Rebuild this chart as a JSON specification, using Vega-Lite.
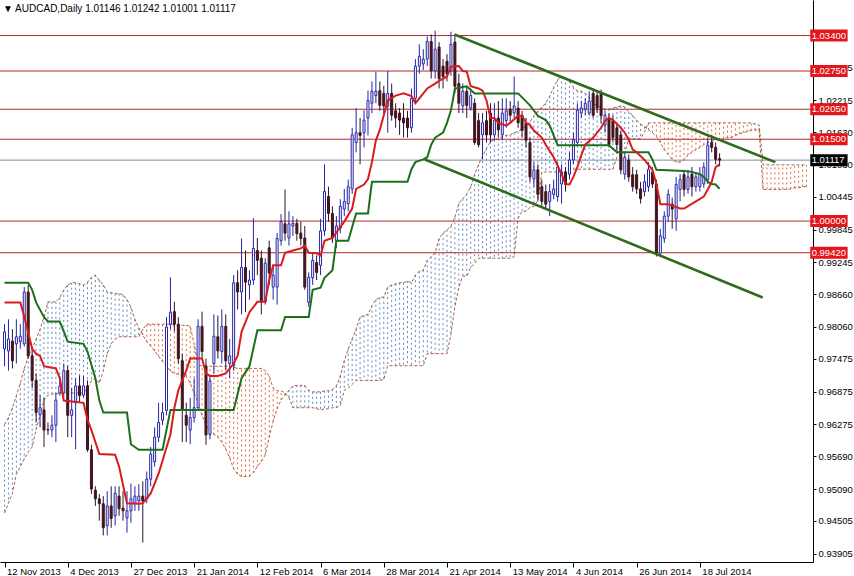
{
"$schema":"https://vega.github.io/schema/vega-lite/v6.json",
"width":813,"height":562,
"autosize":{"type":"none"},
"padding":{"left":0,"top":0,"right":41,"bottom":14},
"background":"white",
"config":{"view":{"stroke":null},"font":"Liberation Sans","axis":{"labelOverlap":false,"labelSeparation":0,"labelBound":false}},
"title":{"text":"▼ AUDCAD,Daily  1.01146 1.01242 1.01001 1.01117","anchor":"start","orient":"top","offset":-14,"fontSize":10,"fontWeight":"normal","font":"Liberation Sans","color":"black","dx":3},
"resolve":{"axis":{"x":"independent","y":"independent"}},
"datasets":{
"candles":[
{"i":0,"o":0.9766,"h":0.9811,"l":0.9734,"c":0.9797},{"i":1,"o":0.9762,"h":0.982,"l":0.9726,"c":0.9784},{"i":2,"o":0.978,"h":0.9802,"l":0.973,"c":0.9744},{"i":3,"o":0.9775,"h":0.982,"l":0.9739,"c":0.9788},{"i":4,"o":0.9779,"h":0.9811,"l":0.9766,"c":0.9789},{"i":5,"o":0.9775,"h":0.9879,"l":0.977,"c":0.987},{"i":6,"o":0.987,"h":0.9883,"l":0.9748,"c":0.9753},{"i":7,"o":0.9753,"h":0.9766,"l":0.9694,"c":0.9708},{"i":8,"o":0.9708,"h":0.9721,"l":0.9631,"c":0.9649},{"i":9,"o":0.9645,"h":0.9681,"l":0.9622,"c":0.9658},
{"i":10,"o":0.9654,"h":0.9676,"l":0.9586,"c":0.9617},{"i":11,"o":0.9618,"h":0.9631,"l":0.9608,"c":0.9617},{"i":12,"o":0.9617,"h":0.9644,"l":0.9604,"c":0.9626},{"i":13,"o":0.9626,"h":0.9685,"l":0.9595,"c":0.9672},{"i":14,"o":0.9685,"h":0.9716,"l":0.968,"c":0.9698},{"i":15,"o":0.9685,"h":0.9739,"l":0.9676,"c":0.9726},{"i":16,"o":0.9726,"h":0.9735,"l":0.9604,"c":0.9644},{"i":17,"o":0.9644,"h":0.9694,"l":0.9604,"c":0.9654},{"i":18,"o":0.9667,"h":0.9712,"l":0.9582,"c":0.9698},{"i":19,"o":0.9698,"h":0.9717,"l":0.9667,"c":0.968},
{"i":20,"o":0.9681,"h":0.9716,"l":0.9676,"c":0.9698},{"i":21,"o":0.9698,"h":0.9708,"l":0.9577,"c":0.9581},{"i":22,"o":0.9581,"h":0.959,"l":0.95,"c":0.9509},{"i":23,"o":0.9507,"h":0.9514,"l":0.9478,"c":0.9491},{"i":24,"o":0.9491,"h":0.95,"l":0.9451,"c":0.9482},{"i":25,"o":0.9482,"h":0.9496,"l":0.9424,"c":0.9438},{"i":26,"o":0.9442,"h":0.9505,"l":0.9424,"c":0.9478},{"i":27,"o":0.9478,"h":0.9514,"l":0.9438,"c":0.9455},{"i":28,"o":0.946,"h":0.9514,"l":0.9442,"c":0.9501},{"i":29,"o":0.9496,"h":0.9514,"l":0.946,"c":0.9473},
{"i":30,"o":0.9474,"h":0.9505,"l":0.9451,"c":0.9469},{"i":31,"o":0.9456,"h":0.9505,"l":0.9429,"c":0.9469},{"i":32,"o":0.9469,"h":0.9519,"l":0.9447,"c":0.9491},{"i":33,"o":0.9482,"h":0.9514,"l":0.9469,"c":0.9496},{"i":34,"o":0.9487,"h":0.9518,"l":0.9469,"c":0.9496},{"i":35,"o":0.9496,"h":0.9523,"l":0.9411,"c":0.9487},{"i":36,"o":0.9491,"h":0.9541,"l":0.9483,"c":0.9527},{"i":37,"o":0.9527,"h":0.9586,"l":0.9514,"c":0.9573},{"i":38,"o":0.9559,"h":0.9622,"l":0.955,"c":0.9604},{"i":39,"o":0.9604,"h":0.9667,"l":0.9595,"c":0.9631},
{"i":40,"o":0.9635,"h":0.9667,"l":0.9626,"c":0.9649},{"i":41,"o":0.9653,"h":0.9824,"l":0.9644,"c":0.9806},{"i":42,"o":0.9811,"h":0.9897,"l":0.9802,"c":0.9833},{"i":43,"o":0.9834,"h":0.9852,"l":0.9798,"c":0.9811},{"i":44,"o":0.9811,"h":0.9824,"l":0.9739,"c":0.9748},{"i":45,"o":0.9744,"h":0.9757,"l":0.9595,"c":0.9653},{"i":46,"o":0.9644,"h":0.9667,"l":0.9595,"c":0.9626},{"i":47,"o":0.9617,"h":0.9676,"l":0.9591,"c":0.964},{"i":48,"o":0.964,"h":0.9712,"l":0.9631,"c":0.9658},{"i":49,"o":0.9658,"h":0.982,"l":0.9654,"c":0.9807},
{"i":50,"o":0.9807,"h":0.9834,"l":0.9748,"c":0.9761},{"i":51,"o":0.9734,"h":0.9748,"l":0.959,"c":0.9608},{"i":52,"o":0.9609,"h":0.9716,"l":0.96,"c":0.9707},{"i":53,"o":0.9739,"h":0.9829,"l":0.9721,"c":0.9789},{"i":54,"o":0.9788,"h":0.9827,"l":0.9748,"c":0.9762},{"i":55,"o":0.9761,"h":0.9838,"l":0.9739,"c":0.9807},{"i":56,"o":0.9807,"h":0.9829,"l":0.9726,"c":0.9744},{"i":57,"o":0.9739,"h":0.9784,"l":0.9712,"c":0.9753},{"i":58,"o":0.9735,"h":0.9901,"l":0.9726,"c":0.9887},{"i":59,"o":0.9887,"h":0.991,"l":0.9838,"c":0.987},
{"i":60,"o":0.987,"h":0.9968,"l":0.9829,"c":0.9915},{"i":61,"o":0.9915,"h":0.9946,"l":0.9833,"c":0.9888},{"i":62,"o":0.9883,"h":0.991,"l":0.9856,"c":0.9892},{"i":63,"o":0.9892,"h":1.0005,"l":0.9883,"c":0.995},{"i":64,"o":0.9946,"h":0.9969,"l":0.9901,"c":0.9928},{"i":65,"o":0.9932,"h":0.9946,"l":0.9829,"c":0.9852},{"i":66,"o":0.9852,"h":0.9932,"l":0.9847,"c":0.9923},{"i":67,"o":0.9951,"h":0.9964,"l":0.9883,"c":0.9905},{"i":68,"o":0.9879,"h":0.9919,"l":0.9856,"c":0.9901},{"i":69,"o":0.9879,"h":0.9978,"l":0.9847,"c":0.9968},
{"i":70,"o":0.9964,"h":1.0013,"l":0.9955,"c":0.9999},{"i":71,"o":0.9995,"h":1.0058,"l":0.9964,"c":0.9978},{"i":72,"o":0.9969,"h":1.0018,"l":0.9955,"c":0.9995},{"i":73,"o":0.9991,"h":1.0009,"l":0.9973,"c":0.9996},{"i":74,"o":0.9996,"h":1.0004,"l":0.9964,"c":0.9977},{"i":75,"o":0.9978,"h":0.9999,"l":0.9955,"c":0.9968},{"i":76,"o":0.9969,"h":0.9991,"l":0.9874,"c":0.9879},{"i":77,"o":0.9851,"h":0.9906,"l":0.9843,"c":0.9897},{"i":78,"o":0.9896,"h":0.9942,"l":0.9883,"c":0.9928},{"i":79,"o":0.9924,"h":0.9937,"l":0.9892,"c":0.9906},
{"i":80,"o":0.9919,"h":1.0004,"l":0.9901,"c":0.9982},{"i":81,"o":0.9982,"h":1.0104,"l":0.9973,"c":1.0054},{"i":82,"o":1.0045,"h":1.0063,"l":0.9999,"c":1.0014},{"i":83,"o":1.0014,"h":1.0027,"l":0.996,"c":0.9969},{"i":84,"o":0.9964,"h":1.0009,"l":0.9951,"c":0.9991},{"i":85,"o":0.9987,"h":1.004,"l":0.9978,"c":1.0027},{"i":86,"o":1.0022,"h":1.0059,"l":1.0009,"c":1.0036},{"i":87,"o":1.0032,"h":1.0076,"l":1.0018,"c":1.0063},{"i":88,"o":1.0059,"h":1.0171,"l":1.005,"c":1.0158},{"i":89,"o":1.0144,"h":1.0207,"l":1.0126,"c":1.0162},
{"i":90,"o":1.0162,"h":1.0189,"l":1.0104,"c":1.0157},{"i":91,"o":1.0162,"h":1.0203,"l":1.0135,"c":1.0185},{"i":92,"o":1.0189,"h":1.0239,"l":1.0157,"c":1.0221},{"i":93,"o":1.0216,"h":1.0256,"l":1.0198,"c":1.0238},{"i":94,"o":1.023,"h":1.0274,"l":1.0216,"c":1.0238},{"i":95,"o":1.0239,"h":1.0256,"l":1.0202,"c":1.0212},{"i":96,"o":1.0234,"h":1.0248,"l":1.0198,"c":1.0211},{"i":97,"o":1.0211,"h":1.0275,"l":1.0162,"c":1.0234},{"i":98,"o":1.0234,"h":1.0252,"l":1.0184,"c":1.0194},{"i":99,"o":1.0202,"h":1.0216,"l":1.0171,"c":1.0189},
{"i":100,"o":1.0198,"h":1.0207,"l":1.0158,"c":1.0185},{"i":101,"o":1.0189,"h":1.0216,"l":1.0153,"c":1.018},{"i":102,"o":1.0189,"h":1.0202,"l":1.0153,"c":1.0171},{"i":103,"o":1.0171,"h":1.0243,"l":1.0162,"c":1.0225},{"i":104,"o":1.0225,"h":1.0297,"l":1.0216,"c":1.0284},{"i":105,"o":1.0284,"h":1.0324,"l":1.027,"c":1.0302},{"i":106,"o":1.0288,"h":1.0315,"l":1.0277,"c":1.0297},{"i":107,"o":1.0297,"h":1.0338,"l":1.0284,"c":1.0329},{"i":108,"o":1.0329,"h":1.0342,"l":1.0261,"c":1.0275},{"i":109,"o":1.0275,"h":1.0349,"l":1.0261,"c":1.0315},
{"i":110,"o":1.0319,"h":1.0328,"l":1.0243,"c":1.0261},{"i":111,"o":1.0284,"h":1.0297,"l":1.0243,"c":1.0265},{"i":112,"o":1.0293,"h":1.0306,"l":1.0256,"c":1.027},{"i":113,"o":1.0275,"h":1.0347,"l":1.0266,"c":1.0324},{"i":114,"o":1.0328,"h":1.0342,"l":1.0234,"c":1.0247},{"i":115,"o":1.0252,"h":1.027,"l":1.0198,"c":1.0216},{"i":116,"o":1.0211,"h":1.0252,"l":1.0198,"c":1.0238},{"i":117,"o":1.0238,"h":1.0248,"l":1.0189,"c":1.0212},{"i":118,"o":1.0207,"h":1.0243,"l":1.0202,"c":1.023},{"i":119,"o":1.0216,"h":1.0225,"l":1.014,"c":1.0144},
{"i":120,"o":1.0184,"h":1.0198,"l":1.0135,"c":1.014},{"i":121,"o":1.0158,"h":1.0198,"l":1.0113,"c":1.018},{"i":122,"o":1.0184,"h":1.0202,"l":1.0144,"c":1.0158},{"i":123,"o":1.0198,"h":1.0216,"l":1.0144,"c":1.0158},{"i":124,"o":1.0158,"h":1.0216,"l":1.0148,"c":1.0185},{"i":125,"o":1.0189,"h":1.022,"l":1.0153,"c":1.0167},{"i":126,"o":1.0158,"h":1.0225,"l":1.0148,"c":1.0198},{"i":127,"o":1.0184,"h":1.0225,"l":1.0171,"c":1.0202},{"i":128,"o":1.0205,"h":1.022,"l":1.018,"c":1.0194},{"i":129,"o":1.0198,"h":1.0265,"l":1.0189,"c":1.0211},
{"i":130,"o":1.0207,"h":1.022,"l":1.0171,"c":1.018},{"i":131,"o":1.0194,"h":1.0202,"l":1.0153,"c":1.0166},{"i":132,"o":1.018,"h":1.0189,"l":1.0135,"c":1.0148},{"i":133,"o":1.0144,"h":1.0153,"l":1.0072,"c":1.0081},{"i":134,"o":1.0077,"h":1.0108,"l":1.0063,"c":1.0094},{"i":135,"o":1.0094,"h":1.0104,"l":1.0036,"c":1.0049},{"i":136,"o":1.0063,"h":1.0076,"l":1.0027,"c":1.0036},{"i":137,"o":1.0054,"h":1.0067,"l":1.0022,"c":1.0031},{"i":138,"o":1.0036,"h":1.0068,"l":1.0009,"c":1.0054},{"i":139,"o":1.0049,"h":1.0076,"l":1.004,"c":1.0059},
{"i":140,"o":1.0045,"h":1.0108,"l":1.0036,"c":1.0099},{"i":141,"o":1.0068,"h":1.0104,"l":1.0032,"c":1.009},{"i":142,"o":1.009,"h":1.0099,"l":1.0054,"c":1.0067},{"i":143,"o":1.0086,"h":1.0126,"l":1.0076,"c":1.0112},{"i":144,"o":1.0112,"h":1.0162,"l":1.0104,"c":1.0149},{"i":145,"o":1.0144,"h":1.0216,"l":1.014,"c":1.0203},{"i":146,"o":1.0198,"h":1.022,"l":1.0189,"c":1.0207},{"i":147,"o":1.0205,"h":1.0225,"l":1.0194,"c":1.0216},{"i":148,"o":1.0198,"h":1.0238,"l":1.0193,"c":1.022},{"i":149,"o":1.0234,"h":1.0243,"l":1.0189,"c":1.0194},
{"i":150,"o":1.023,"h":1.0238,"l":1.0198,"c":1.0207},{"i":151,"o":1.0234,"h":1.0241,"l":1.018,"c":1.0193},{"i":152,"o":1.0176,"h":1.0202,"l":1.0162,"c":1.0194},{"i":153,"o":1.0189,"h":1.0198,"l":1.0135,"c":1.014},{"i":154,"o":1.0184,"h":1.0194,"l":1.0144,"c":1.0153},{"i":155,"o":1.0171,"h":1.018,"l":1.0126,"c":1.014},{"i":156,"o":1.0158,"h":1.0166,"l":1.0086,"c":1.0094},{"i":157,"o":1.0086,"h":1.0126,"l":1.0076,"c":1.0117},{"i":158,"o":1.0112,"h":1.0122,"l":1.0072,"c":1.0081},{"i":159,"o":1.0085,"h":1.0099,"l":1.0054,"c":1.0063},
{"i":160,"o":1.0085,"h":1.0094,"l":1.005,"c":1.0059},{"i":161,"o":1.0059,"h":1.0072,"l":1.0032,"c":1.0041},{"i":162,"o":1.0054,"h":1.0086,"l":1.0045,"c":1.0072},{"i":163,"o":1.0063,"h":1.0108,"l":1.0054,"c":1.0095},{"i":164,"o":1.009,"h":1.0099,"l":1.0061,"c":1.0068},{"i":165,"o":1.0068,"h":1.0076,"l":0.9935,"c":0.9942},{"i":166,"o":0.9941,"h":0.9986,"l":0.9935,"c":0.9973},{"i":167,"o":0.9968,"h":1.0018,"l":0.996,"c":1.0009},{"i":168,"o":1.0009,"h":1.0058,"l":0.9999,"c":1.0049},{"i":169,"o":1.0031,"h":1.0043,"l":0.9986,"c":1.0022},
{"i":170,"o":1.0004,"h":1.0081,"l":0.9982,"c":1.0067},{"i":171,"o":1.0058,"h":1.0086,"l":1.0036,"c":1.0076},{"i":172,"o":1.0085,"h":1.0094,"l":1.0045,"c":1.0058},{"i":173,"o":1.0058,"h":1.0094,"l":1.005,"c":1.0081},{"i":174,"o":1.0086,"h":1.0099,"l":1.0045,"c":1.0063},{"i":175,"o":1.0063,"h":1.009,"l":1.0054,"c":1.0081},{"i":176,"o":1.0063,"h":1.0099,"l":1.0054,"c":1.0086},{"i":177,"o":1.0068,"h":1.0108,"l":1.0061,"c":1.0099},{"i":178,"o":1.0076,"h":1.0153,"l":1.0068,"c":1.0139},{"i":179,"o":1.0144,"h":1.0157,"l":1.0126,"c":1.0135},
{"i":180,"o":1.0135,"h":1.0144,"l":1.0104,"c":1.0113},{"i":181,"o":1.01146,"h":1.01242,"l":1.01001,"c":1.01117}
],
"tenkan":[
{"i":0,"v":0.9851},{"i":4,"v":0.9851},{"i":5,"v":0.9825},{"i":7,"v":0.9766},{"i":8,"v":0.9757},{"i":9,"v":0.9753},{"i":10,"v":0.9734},{"i":13,"v":0.973},{"i":14,"v":0.9712},{"i":15,"v":0.9671},{"i":20,"v":0.9667},{"i":21,"v":0.9636},{"i":22,"v":0.9617},{"i":24,"v":0.9573},{"i":28,"v":0.9572},{"i":29,"v":0.955},{"i":31,"v":0.9483},{"i":34,"v":0.9482},{"i":35,"v":0.9483},{"i":37,"v":0.9501},{"i":39,"v":0.9537},{"i":42,"v":0.9609},{"i":43,"v":0.9658},{"i":44,"v":0.969},{"i":46,"v":0.9726},{"i":47,"v":0.9748},{"i":50,"v":0.9748},{"i":51,"v":0.9721},{"i":52,"v":0.9716},{"i":54,"v":0.9716},{"i":56,"v":0.9721},{"i":58,"v":0.9739},{"i":59,"v":0.9753},{"i":60,"v":0.9797},{"i":62,"v":0.9833},{"i":64,"v":0.9852},{"i":66,"v":0.9852},{"i":67,"v":0.9892},{"i":68,"v":0.9919},{"i":70,"v":0.9919},{"i":71,"v":0.9942},{"i":73,"v":0.9946},{"i":75,"v":0.995},{"i":76,"v":0.9955},{"i":77,"v":0.9942},{"i":79,"v":0.9941},{"i":80,"v":0.9937},{"i":81,"v":0.9964},{"i":83,"v":0.9969},{"i":86,"v":0.9999},{"i":88,"v":1.0023},{"i":89,"v":1.0059},{"i":91,"v":1.0067},{"i":92,"v":1.0077},{"i":93,"v":1.0108},{"i":94,"v":1.0148},{"i":95,"v":1.0167},{"i":97,"v":1.0221},{"i":99,"v":1.023},{"i":101,"v":1.0234},{"i":103,"v":1.0229},{"i":104,"v":1.0216},{"i":105,"v":1.0225},{"i":107,"v":1.0243},{"i":109,"v":1.0252},{"i":110,"v":1.0257},{"i":112,"v":1.0265},{"i":113,"v":1.0283},{"i":115,"v":1.0284},{"i":116,"v":1.0275},{"i":117,"v":1.0274},{"i":118,"v":1.0247},{"i":120,"v":1.0243},{"i":121,"v":1.0239},{"i":122,"v":1.0221},{"i":123,"v":1.0189},{"i":124,"v":1.0189},{"i":125,"v":1.018},{"i":127,"v":1.0175},{"i":128,"v":1.018},{"i":130,"v":1.0193},{"i":131,"v":1.0193},{"i":132,"v":1.018},{"i":133,"v":1.0176},{"i":134,"v":1.0166},{"i":136,"v":1.0153},{"i":137,"v":1.014},{"i":139,"v":1.0117},{"i":141,"v":1.0086},{"i":142,"v":1.0068},{"i":143,"v":1.0067},{"i":144,"v":1.0081},{"i":145,"v":1.0099},{"i":146,"v":1.0121},{"i":147,"v":1.014},{"i":149,"v":1.0153},{"i":151,"v":1.0171},{"i":152,"v":1.0184},{"i":153,"v":1.0189},{"i":154,"v":1.0185},{"i":156,"v":1.0171},{"i":157,"v":1.0162},{"i":158,"v":1.0149},{"i":159,"v":1.0131},{"i":160,"v":1.0126},{"i":162,"v":1.0112},{"i":163,"v":1.0103},{"i":164,"v":1.0094},{"i":165,"v":1.0068},{"i":166,"v":1.0031},{"i":168,"v":1.0031},{"i":171,"v":1.0023},{"i":172,"v":1.0023},{"i":175,"v":1.0036},{"i":177,"v":1.0045},{"i":178,"v":1.0058},{"i":179,"v":1.0072},{"i":180,"v":1.0099},{"i":181,"v":1.0104}
],
"kijun":[
{"i":0,"v":0.9887},{"i":6,"v":0.9887},{"i":7,"v":0.9874},{"i":8,"v":0.9851},{"i":10,"v":0.9824},{"i":11,"v":0.9816},{"i":14,"v":0.9816},{"i":16,"v":0.9779},{"i":20,"v":0.9775},{"i":21,"v":0.9761},{"i":23,"v":0.9712},{"i":24,"v":0.9671},{"i":25,"v":0.9649},{"i":31,"v":0.9649},{"i":32,"v":0.9591},{"i":34,"v":0.9581},{"i":40,"v":0.9581},{"i":42,"v":0.9654},{"i":58,"v":0.9654},{"i":60,"v":0.9712},{"i":62,"v":0.9734},{"i":64,"v":0.98},{"i":70,"v":0.98},{"i":71,"v":0.9824},{"i":77,"v":0.9824},{"i":78,"v":0.9874},{"i":80,"v":0.9878},{"i":81,"v":0.9896},{"i":83,"v":0.991},{"i":84,"v":0.9964},{"i":87,"v":0.9964},{"i":89,"v":1.0014},{"i":92,"v":1.0014},{"i":93,"v":1.0072},{"i":102,"v":1.0072},{"i":103,"v":1.0095},{"i":104,"v":1.0108},{"i":106,"v":1.0113},{"i":107,"v":1.0117},{"i":108,"v":1.014},{"i":109,"v":1.0153},{"i":111,"v":1.0162},{"i":112,"v":1.018},{"i":113,"v":1.0203},{"i":114,"v":1.0243},{"i":117,"v":1.0247},{"i":119,"v":1.0234},{"i":130,"v":1.0234},{"i":133,"v":1.0212},{"i":135,"v":1.0193},{"i":137,"v":1.0185},{"i":138,"v":1.0175},{"i":140,"v":1.0139},{"i":153,"v":1.0139},{"i":155,"v":1.0126},{"i":163,"v":1.0126},{"i":164,"v":1.0113},{"i":165,"v":1.0094},{"i":172,"v":1.0092},{"i":174,"v":1.009},{"i":176,"v":1.0086},{"i":177,"v":1.0081},{"i":178,"v":1.0072},{"i":179,"v":1.0068},{"i":180,"v":1.0067},{"i":181,"v":1.0059}
],
"cloud":[
{"i":0,"a":0.9627,"b":0.9465},{"i":1,"a":0.964,"b":0.9483},{"i":2,"a":0.9658,"b":0.9501},{"i":3,"a":0.968,"b":0.9536},{"i":4,"a":0.9703,"b":0.955},{"i":5,"a":0.973,"b":0.9564},{"i":6,"a":0.9752,"b":0.9577},{"i":7,"a":0.9766,"b":0.9586},{"i":8,"a":0.9784,"b":0.9618},{"i":9,"a":0.9802,"b":0.9644},
{"i":10,"a":0.9824,"b":0.9672},{"i":11,"a":0.9852,"b":0.9681},{"i":12,"a":0.9852,"b":0.9683},{"i":13,"a":0.9852,"b":0.9683},{"i":14,"a":0.986,"b":0.9685},{"i":15,"a":0.9874,"b":0.9685},{"i":16,"a":0.9883,"b":0.9685},{"i":17,"a":0.9887,"b":0.9685},{"i":18,"a":0.9887,"b":0.9685},{"i":19,"a":0.9885,"b":0.9685},
{"i":20,"a":0.9883,"b":0.9685},{"i":21,"a":0.9888,"b":0.9694},{"i":22,"a":0.9897,"b":0.9707},{"i":23,"a":0.9901,"b":0.9712},{"i":24,"a":0.9892,"b":0.9703},{"i":25,"a":0.9883,"b":0.9726},{"i":26,"a":0.987,"b":0.9757},{"i":27,"a":0.9869,"b":0.9775},{"i":28,"a":0.9867,"b":0.9784},{"i":29,"a":0.9867,"b":0.9788},
{"i":30,"a":0.9865,"b":0.9788},{"i":31,"a":0.9856,"b":0.9788},{"i":32,"a":0.9842,"b":0.9788},{"i":33,"a":0.982,"b":0.9788},{"i":34,"a":0.9804,"b":0.9788},{"i":35,"a":0.9791,"b":0.9802},{"i":36,"a":0.9779,"b":0.9811},{"i":37,"a":0.9771,"b":0.9811},{"i":38,"a":0.9762,"b":0.9811},{"i":39,"a":0.9752,"b":0.9811},
{"i":40,"a":0.9743,"b":0.9811},{"i":41,"a":0.9734,"b":0.9811},{"i":42,"a":0.9725,"b":0.9811},{"i":43,"a":0.9721,"b":0.9809},{"i":44,"a":0.9719,"b":0.9809},{"i":45,"a":0.9717,"b":0.9809},{"i":46,"a":0.9716,"b":0.9809},{"i":47,"a":0.9703,"b":0.9807},{"i":48,"a":0.9685,"b":0.9775},{"i":49,"a":0.9667,"b":0.9735},
{"i":50,"a":0.9644,"b":0.9735},{"i":51,"a":0.9626,"b":0.9735},{"i":52,"a":0.9615,"b":0.9734},{"i":53,"a":0.9609,"b":0.9734},{"i":54,"a":0.9604,"b":0.9734},{"i":55,"a":0.9595,"b":0.9734},{"i":56,"a":0.9582,"b":0.9734},{"i":57,"a":0.9566,"b":0.9734},{"i":58,"a":0.9546,"b":0.9732},{"i":59,"a":0.9536,"b":0.973},
{"i":60,"a":0.9532,"b":0.973},{"i":61,"a":0.9532,"b":0.973},{"i":62,"a":0.9532,"b":0.973},{"i":63,"a":0.9539,"b":0.973},{"i":64,"a":0.955,"b":0.973},{"i":65,"a":0.9559,"b":0.973},{"i":66,"a":0.9572,"b":0.9726},{"i":67,"a":0.9604,"b":0.9716},{"i":68,"a":0.9633,"b":0.9694},{"i":69,"a":0.9656,"b":0.9689},
{"i":70,"a":0.9672,"b":0.9689},{"i":71,"a":0.9681,"b":0.9685},{"i":72,"a":0.969,"b":0.9676},{"i":73,"a":0.9698,"b":0.9658},{"i":74,"a":0.9699,"b":0.9658},{"i":75,"a":0.9699,"b":0.9658},{"i":76,"a":0.9699,"b":0.9658},{"i":77,"a":0.969,"b":0.9658},{"i":78,"a":0.9687,"b":0.9658},{"i":79,"a":0.9687,"b":0.9656},
{"i":80,"a":0.9687,"b":0.9654},{"i":81,"a":0.9689,"b":0.9656},{"i":82,"a":0.9689,"b":0.9656},{"i":83,"a":0.9692,"b":0.9658},{"i":84,"a":0.9698,"b":0.9658},{"i":85,"a":0.9716,"b":0.9662},{"i":86,"a":0.9744,"b":0.969},{"i":87,"a":0.9766,"b":0.9694},{"i":88,"a":0.9784,"b":0.9701},{"i":89,"a":0.9802,"b":0.9708},
{"i":90,"a":0.9824,"b":0.9708},{"i":91,"a":0.9827,"b":0.9708},{"i":92,"a":0.9829,"b":0.9708},{"i":93,"a":0.9845,"b":0.9708},{"i":94,"a":0.9856,"b":0.9708},{"i":95,"a":0.986,"b":0.9708},{"i":96,"a":0.9861,"b":0.971},{"i":97,"a":0.9879,"b":0.9735},{"i":98,"a":0.9883,"b":0.9735},{"i":99,"a":0.9885,"b":0.9735},
{"i":100,"a":0.9887,"b":0.9735},{"i":101,"a":0.9887,"b":0.9735},{"i":102,"a":0.989,"b":0.9735},{"i":103,"a":0.9887,"b":0.9735},{"i":104,"a":0.9901,"b":0.9735},{"i":105,"a":0.9908,"b":0.9735},{"i":106,"a":0.991,"b":0.9735},{"i":107,"a":0.9928,"b":0.9757},{"i":108,"a":0.9935,"b":0.9757},{"i":109,"a":0.9942,"b":0.9757},
{"i":110,"a":0.9968,"b":0.9757},{"i":111,"a":0.9978,"b":0.9757},{"i":112,"a":0.9984,"b":0.9757},{"i":113,"a":0.9991,"b":0.9793},{"i":114,"a":1.0007,"b":0.9843},{"i":115,"a":1.0032,"b":0.9879},{"i":116,"a":1.0041,"b":0.9899},{"i":117,"a":1.005,"b":0.9899},{"i":118,"a":1.0063,"b":0.9915},{"i":119,"a":1.0086,"b":0.9923},
{"i":120,"a":1.0104,"b":0.9932},{"i":121,"a":1.0119,"b":0.9932},{"i":122,"a":1.0133,"b":0.9932},{"i":123,"a":1.0146,"b":0.9932},{"i":124,"a":1.0149,"b":0.9932},{"i":125,"a":1.0151,"b":0.9932},{"i":126,"a":1.0155,"b":0.9932},{"i":127,"a":1.0157,"b":0.9932},{"i":128,"a":1.0158,"b":0.9932},{"i":129,"a":1.0162,"b":0.9935},
{"i":130,"a":1.0164,"b":1.0005},{"i":131,"a":1.0169,"b":1.0018},{"i":132,"a":1.0175,"b":1.0018},{"i":133,"a":1.0182,"b":1.0025},{"i":134,"a":1.0193,"b":1.0027},{"i":135,"a":1.0202,"b":1.0038},{"i":136,"a":1.0209,"b":1.009},{"i":137,"a":1.0216,"b":1.009},{"i":138,"a":1.0229,"b":1.009},{"i":139,"a":1.0245,"b":1.009},
{"i":140,"a":1.0259,"b":1.009},{"i":141,"a":1.0265,"b":1.009},{"i":142,"a":1.0263,"b":1.009},{"i":143,"a":1.0257,"b":1.0095},{"i":144,"a":1.0245,"b":1.0095},{"i":145,"a":1.0239,"b":1.0095},{"i":146,"a":1.0238,"b":1.0095},{"i":147,"a":1.0234,"b":1.0095},{"i":148,"a":1.0227,"b":1.0095},{"i":149,"a":1.0216,"b":1.0095},
{"i":150,"a":1.0212,"b":1.0095},{"i":151,"a":1.0209,"b":1.0095},{"i":152,"a":1.0205,"b":1.0095},{"i":153,"a":1.0205,"b":1.0095},{"i":154,"a":1.0207,"b":1.0095},{"i":155,"a":1.0209,"b":1.0117},{"i":156,"a":1.0211,"b":1.0121},{"i":157,"a":1.0209,"b":1.0126},{"i":158,"a":1.02,"b":1.0151},{"i":159,"a":1.0194,"b":1.0151},
{"i":160,"a":1.0185,"b":1.0151},{"i":161,"a":1.0178,"b":1.0151},{"i":162,"a":1.0173,"b":1.0164},{"i":163,"a":1.0167,"b":1.018},{"i":164,"a":1.0162,"b":1.018},{"i":165,"a":1.0155,"b":1.018},{"i":166,"a":1.0144,"b":1.018},{"i":167,"a":1.0131,"b":1.018},{"i":168,"a":1.0122,"b":1.018},{"i":169,"a":1.0113,"b":1.018},
{"i":170,"a":1.0108,"b":1.018},{"i":171,"a":1.0108,"b":1.018},{"i":172,"a":1.0112,"b":1.018},{"i":173,"a":1.0121,"b":1.018},{"i":174,"a":1.0126,"b":1.018},{"i":175,"a":1.0131,"b":1.018},{"i":176,"a":1.0135,"b":1.018},{"i":177,"a":1.014,"b":1.018},{"i":178,"a":1.0144,"b":1.018},{"i":179,"a":1.0146,"b":1.018},
{"i":180,"a":1.0149,"b":1.018},{"i":181,"a":1.0149,"b":1.018},{"i":182,"a":1.0151,"b":1.018},{"i":183,"a":1.0153,"b":1.018},{"i":184,"a":1.0153,"b":1.018},{"i":185,"a":1.0157,"b":1.018},{"i":186,"a":1.016,"b":1.018},{"i":187,"a":1.0162,"b":1.018},{"i":188,"a":1.0164,"b":1.018},{"i":189,"a":1.0166,"b":1.018},
{"i":190,"a":1.0167,"b":1.0178},{"i":191,"a":1.0167,"b":1.0176},{"i":192,"a":1.0058,"b":1.0103},{"i":193,"a":1.0058,"b":1.0103},{"i":194,"a":1.0058,"b":1.0103},{"i":195,"a":1.0058,"b":1.0103},{"i":196,"a":1.0058,"b":1.0103},{"i":197,"a":1.0058,"b":1.0103},{"i":198,"a":1.0058,"b":1.0103},{"i":199,"a":1.0059,"b":1.0103},
{"i":200,"a":1.0061,"b":1.0103},{"i":201,"a":1.0061,"b":1.0103},{"i":202,"a":1.0063,"b":1.0103},{"i":203,"a":1.0063,"b":1.0103}
],
"trend":[
{"line":"upper","i":113.9,"v":1.0342},{"line":"upper","i":195.1,"v":1.0108},
{"line":"lower","i":106.4,"v":1.0113},{"line":"lower","i":191.9,"v":0.986}
],
"levels":[
{"v":1.034,"label":"1.03400","kind":"level"},{"v":1.0275,"label":"1.02750","kind":"level"},{"v":1.0205,"label":"1.02050","kind":"level"},{"v":1.015,"label":"1.01500","kind":"level"},{"v":1.0,"label":"1.00000","kind":"level"},{"v":0.9942,"label":"0.99420","kind":"level"},{"v":1.01117,"label":"1.01117","kind":"current"}
]
},
"layer":[
{"data":{"name":"cloud"},
 "mark":{"type":"rule","strokeWidth":1,"strokeDash":[2,3],"clip":true},
 "encoding":{
  "x":{"field":"i","type":"quantitative","title":null,"scale":{"domain":[0.125,203.375],"nice":false,"zero":false},
   "axis":{"orient":"bottom","values":[0,16,32,48,64,80,96,112,128,144,160,176],"labelExpr":"datum.value==0?'12 Nov 2013':datum.value==16?'4 Dec 2013':datum.value==32?'27 Dec 2013':datum.value==48?'21 Jan 2014':datum.value==64?'12 Feb 2014':datum.value==80?'6 Mar 2014':datum.value==96?'28 Mar 2014':datum.value==112?'21 Apr 2014':datum.value==128?'13 May 2014':datum.value==144?'4 Jun 2014':datum.value==160?'26 Jun 2014':'18 Jul 2014'","title":null,"grid":false,"domainColor":"black","tickColor":"black","tickSize":5,"labelAlign":"left","labelBaseline":"top","labelPadding":-1,"labelOffset":2,"labelFont":"Liberation Sans","labelFontSize":9.5,"labelColor":"black","labelFlush":false,"labelOverlap":false}},
  "y":{"field":"a","type":"quantitative","title":null,"scale":{"domain":[0.93844,1.0396],"nice":false,"zero":false},
   "axis":{"orient":"right","values":[1.034,1.02815,1.02215,1.0163,1.0103,1.00445,0.99845,0.99245,0.9866,0.9806,0.97475,0.96875,0.96275,0.9569,0.9509,0.94505,0.93905],"format":".5f","labelExpr":"datum.value > 1.033 ? '' : datum.label","title":null,"grid":false,"domainColor":"black","tickColor":"black","tickSize":3,"labelColor":"black","labelFont":"Liberation Sans","labelFontSize":9.5,"labelPadding":2,"labelFlush":false,"labelOverlap":false,"labelSeparation":0}},
  "y2":{"field":"b"},
  "color":{"condition":{"test":"datum.a >= datum.b","value":"#5f86bd"},"value":"#e26a38"}
 }},
{"data":{"name":"cloud"},
 "mark":{"type":"line","strokeWidth":1,"color":"#a8604a","strokeDash":[3,2],"clip":true},
 "encoding":{"x":{"field":"i","type":"quantitative","axis":null},"y":{"field":"a","type":"quantitative","axis":null}}},
{"data":{"name":"cloud"},
 "mark":{"type":"line","strokeWidth":1,"color":"#a8604a","strokeDash":[3,2],"clip":true},
 "encoding":{"x":{"field":"i","type":"quantitative","axis":null},"y":{"field":"b","type":"quantitative","axis":null}}},
{"data":{"name":"levels"},
 "mark":{"type":"rule","strokeWidth":1,"clip":true},
 "encoding":{"y":{"field":"v","type":"quantitative","axis":null},
  "color":{"condition":{"test":"datum.kind=='current'","value":"#7d8ea3"},"value":"#b42a2a"}}},
{"data":{"name":"candles"},
 "mark":{"type":"rule","strokeWidth":1,"clip":true},
 "encoding":{"x":{"field":"i","type":"quantitative","axis":null},"y":{"field":"l","type":"quantitative","axis":null},"y2":{"field":"h"},
  "color":{"condition":{"test":"datum.c >= datum.o","value":"#2424a8"},"value":"#2a1530"}}},
{"data":{"name":"candles"},
 "mark":{"type":"bar","size":2,"strokeWidth":1,"clip":true},
 "encoding":{"x":{"field":"i","type":"quantitative","axis":null},"y":{"field":"o","type":"quantitative","axis":null},"y2":{"field":"c"},
  "fill":{"condition":{"test":"datum.c >= datum.o","value":"#ffffff"},"value":"#4e1616"},
  "stroke":{"condition":{"test":"datum.c >= datum.o","value":"#2424a8"},"value":"#3a1420"}}},
{"data":{"name":"trend"},
 "mark":{"type":"line","strokeWidth":2.6,"color":"#2f6b1c","clip":true},
 "encoding":{"x":{"field":"i","type":"quantitative","axis":null},"y":{"field":"v","type":"quantitative","axis":null},"detail":{"field":"line"}}},
{"data":{"name":"kijun"},
 "mark":{"type":"line","strokeWidth":2,"color":"#1b701b","clip":true},
 "encoding":{"x":{"field":"i","type":"quantitative","axis":null},"y":{"field":"v","type":"quantitative","axis":null}}},
{"data":{"name":"tenkan"},
 "mark":{"type":"line","strokeWidth":2,"color":"#d81c1c","clip":true},
 "encoding":{"x":{"field":"i","type":"quantitative","axis":null},"y":{"field":"v","type":"quantitative","axis":null}}},
{"data":{"name":"levels"},
 "mark":{"type":"bar","orient":"horizontal","size":12,"clip":false},
 "encoding":{"x":{"datum":203.95,"type":"quantitative","axis":null},"x2":{"datum":213.4},"y":{"field":"v","type":"quantitative","axis":null},
  "color":{"condition":{"test":"datum.kind=='current'","value":"#000000"},"value":"#e3151d"}}},
{"data":{"name":"levels"},
 "mark":{"type":"text","align":"left","baseline":"middle","fontSize":9.5,"font":"Liberation Sans","color":"white","clip":false},
 "encoding":{"x":{"datum":204.3,"type":"quantitative","axis":null},"y":{"field":"v","type":"quantitative","axis":null},"text":{"field":"label"}}}
]
}
